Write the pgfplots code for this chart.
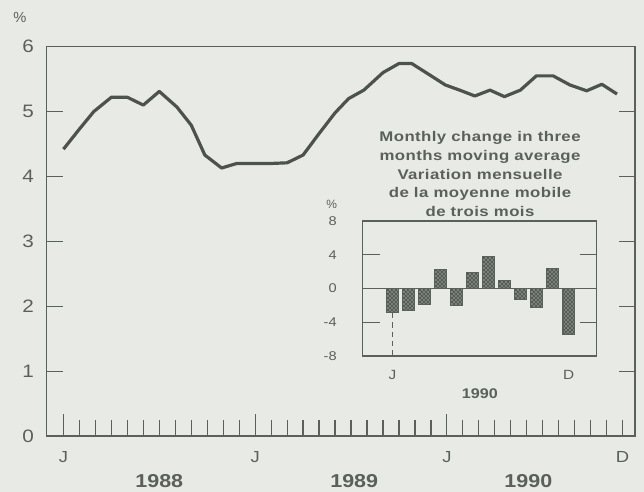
\documentclass[border=0pt]{standalone}
\usepackage{fontspec}
\setmainfont{Liberation Sans}
\newfontfamily\widefont[FakeStretch=1.15]{Liberation Sans}
\newfontfamily\titlefont[FakeStretch=1.2,LetterSpace=3]{Liberation Sans}
\usepackage{pgfplots}
\pgfplotsset{compat=1.18}
\usetikzlibrary{patterns}
\definecolor{bg}{HTML}{E8EAE6}
\definecolor{ink}{HTML}{5A615A}
\definecolor{linec}{HTML}{4C534C}

\begin{document}
\begin{tikzpicture}
\fill[bg] (0,0) rectangle (483pt,369pt);

% main chart: 36 months, Jan 1988 to Dec 1990
\begin{axis}[
  at={(35pt,42pt)}, anchor=south west,
  width=441.2pt, height=292pt, scale only axis,
  xmin=-1.05, xmax=35.77, ymin=0, ymax=6,
  clip=false,
  axis line style={ink, line width=1.2pt},
  tick style={ink, line width=0.9pt},
  tick align=inside,
  major tick length=12pt,
  ytick={0,...,6},
  ytick pos=both,
  xtick={0,...,35},
  xtick pos=bottom,
  xticklabels={J,,,,,,,,,,,,J,,,,,,,,,,,,J,,,,,,,,,,,D},
  extra x ticks={0,12,24},
  extra x tick labels={},
  extra x tick style={major tick length=16.5pt},
  /pgf/number format/assume math mode=true,
  yticklabel style={font=\widefont\fontsize{13.5}{15}\selectfont, text=ink, xshift=-6pt},
  xticklabel style={font=\widefont\fontsize{12}{14}\selectfont, text=ink, yshift=-8pt},
]
\addplot[linec, line width=2.4pt, line join=round] coordinates {
  (0,4.42) (1,4.73) (1.9,5.00) (3,5.22) (4,5.22) (5,5.10) (6,5.31)
  (7.1,5.07) (8,4.79) (8.85,4.33) (9.9,4.13) (10.85,4.20) (12,4.20)
  (13,4.20) (14,4.21) (15,4.33) (16,4.66) (17,4.98) (17.85,5.20)
  (18.8,5.33) (20,5.60) (21,5.74) (21.8,5.74) (22.95,5.56) (23.9,5.41)
  (24.8,5.33) (25.75,5.24) (26.7,5.33) (27.6,5.23) (28.6,5.33)
  (29.6,5.55) (30.65,5.55) (31.7,5.41) (32.75,5.32) (33.7,5.42) (34.65,5.27)
};
\node[font=\widefont\bfseries\fontsize{14}{16}\selectfont, text=ink, yshift=-34pt] at (axis cs:6,0) {1988};
\node[font=\widefont\bfseries\fontsize{14}{16}\selectfont, text=ink, yshift=-34pt] at (axis cs:18.2,0) {1989};
\node[font=\widefont\bfseries\fontsize{14}{16}\selectfont, text=ink, yshift=-34pt] at (axis cs:29.1,0) {1990};
\end{axis}

\node[font=\fontsize{11}{13}\selectfont, text=ink] at (15pt,356pt) {\%};

% inset: monthly change, 1990
\begin{axis}[
  at={(272pt,102pt)}, anchor=south west,
  width=175.5pt, height=101.25pt, scale only axis,
  xmin=-1.85, xmax=12.74, ymin=-8, ymax=8,
  clip=false,
  axis line style={ink, line width=1.1pt},
  tick style={ink, line width=0.9pt},
  tick align=inside,
  major tick length=12.75pt,
  ytick={-8,-4,0,4,8},
  yticklabels={-8,-4,0,4,8},
  ytick pos=both,
  extra y ticks={0},
  extra y tick labels={},
  extra y tick style={grid=major, major grid style={ink, line width=1.0pt}},
  xtick={0,11},
  xticklabels={J,D},
  xtick style={draw=none},
  yticklabel style={font=\widefont\fontsize{9.5}{11}\selectfont, text=ink, xshift=-16pt},
  xticklabel style={font=\widefont\fontsize{10}{12}\selectfont, text=ink, yshift=-7pt},
]
\addplot[ybar, bar width=0.72, draw=ink, line width=0.8pt, fill=ink!95!black,
  postaction={pattern=crosshatch dots, pattern color=white}] coordinates {
  (0,-2.9) (1,-2.6) (2,-1.9) (3,2.2) (4,-2.0) (5,1.9)
  (6,3.8) (7,1.0) (8,-1.3) (9,-2.3) (10,2.4) (11,-5.5)
};
\addplot[ink, line width=1.0pt, dash pattern=on 4pt off 3pt] coordinates {(0,-2.9) (0,-8)};
\node[font=\widefont\bfseries\fontsize{10.5}{12}\selectfont, text=ink, yshift=-28pt] at (axis cs:5.46,-8) {1990};
\end{axis}

\node[font=\fontsize{9}{11}\selectfont, text=ink] at (248.8pt,216pt) {\%};
\node[font=\titlefont\bfseries\fontsize{10.5}{14.07}\selectfont, text=ink, align=center] at (360pt,238.4pt)
  {Monthly change in three\\months moving average\\Variation mensuelle\\de la moyenne mobile\\de trois mois};

\pgfresetboundingbox
\useasboundingbox (0,0) rectangle (483pt,369pt);
\end{tikzpicture}
\end{document}
